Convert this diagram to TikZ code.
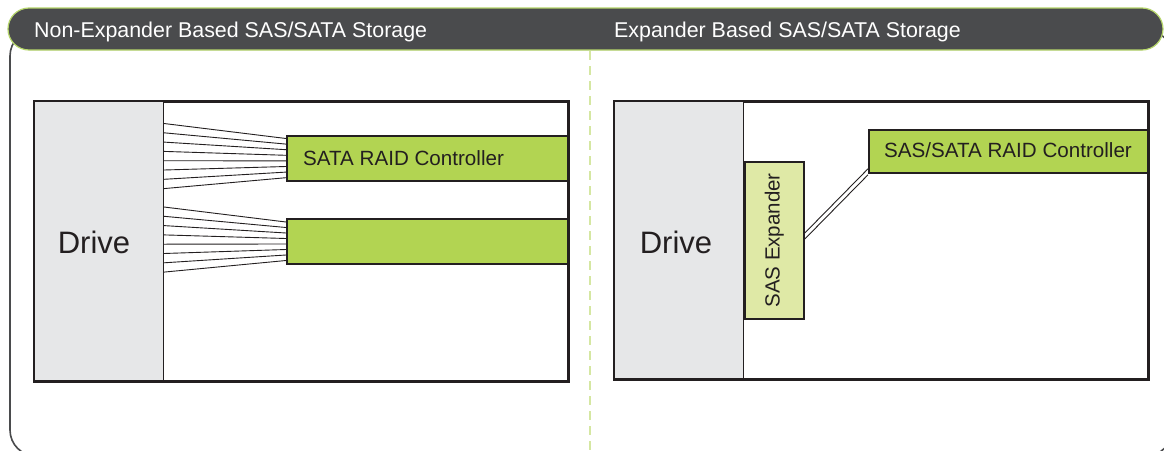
\documentclass[tikz,border=0pt]{standalone}
\usepackage{fontspec}
\setmainfont{Liberation Sans}
\usetikzlibrary{calc}
\definecolor{hdr}{HTML}{4A4B4D}
\definecolor{hgreen}{HTML}{B5D56A}
\definecolor{dashg}{HTML}{D5E7A2}
\definecolor{ink}{HTML}{231F20}
\definecolor{drivefill}{HTML}{E6E7E8}
\definecolor{ctrlfill}{HTML}{B2D452}
\definecolor{expfill}{HTML}{DFE9A6}
\definecolor{frame}{HTML}{4A4B4D}
\tikzset{
  panel/.style={draw=ink, line width=1.8pt, fill=white},
  drivebox/.style={draw=ink, line width=1pt, fill=drivefill, anchor=north west, inner sep=0pt},
  ctrlbox/.style={draw=ink, line width=1.8pt, fill=ctrlfill, anchor=north west, inner sep=0pt},
  expbox/.style={draw=ink, line width=1.8pt, fill=expfill, anchor=north west, inner sep=0pt},
  wire/.style={draw=ink, line width=0.9pt},
  hdrtext/.style={text=white, anchor=base west, font=\fontsize{21.4}{24}\selectfont, inner sep=0pt},
  boxtext/.style={text=ink, anchor=base west, inner sep=0pt, font=\fontsize{20.6}{24}\selectfont},
  drivetext/.style={text=ink, anchor=base, font=\fontsize{31}{36}\selectfont, inner sep=0pt}
}
\begin{document}
\begin{tikzpicture}[x=1pt,y=-1pt]
\clip (0,0) rectangle (1164,450);
\fill[white] (0,0) rectangle (1164,450);
% outer frame
\draw[frame, line width=1.6pt, rounded corners=26] (10,30) rectangle (1172,456);
% header
\draw[fill=hdr, draw=hgreen, line width=1.2pt, rounded corners=21] (8,8) rectangle (1163,50);
\node[hdrtext] (h1) at (34,37.7) {Non-Expander Based SAS/SATA Storage};
\node[hdrtext] (h2) at (614,37.7) {Expander Based SAS/SATA Storage};
% divider
\draw[dashg, line width=1.6pt, dash pattern=on 9pt off 6pt] (590,51) -- (590,450);

% ---------- left panel ----------
\node[panel, anchor=north west, minimum width=533pt, minimum height=279pt, inner sep=0pt] (lp) at (34,101) {};
\node[drivebox, minimum width=129pt, minimum height=279pt] (ld) at (34,101) {};
\draw[ink, line width=1.8pt] (lp.north west) rectangle (lp.south east);
\node[drivetext] (ldt) at (94,253.3) {Drive};
\node[ctrlbox, minimum width=281pt, minimum height=45pt] (c1) at (286,135) {};
\node[boxtext] (c1t) at (303,165) {SATA RAID Controller};
\node[ctrlbox, minimum width=281pt, minimum height=45pt] (c2) at (286,218) {};
\foreach \i in {0,...,7} {
  \draw[wire] ($(ld.north east)+(0,{22.5+9.3*\i})$) -- ($(c1.north west)+(0,{3.5+5.6*\i})$);
  \draw[wire] ($(ld.north east)+(0,{106+9.3*\i})$) -- ($(c2.north west)+(0,{4+5.5*\i})$);
}

% ---------- right panel ----------
\node[panel, anchor=north west, minimum width=533pt, minimum height=277pt, inner sep=0pt] (rp) at (614,101) {};
\node[drivebox, minimum width=129pt, minimum height=277pt] (rd) at (614,101) {};
\draw[ink, line width=1.8pt] (rp.north west) rectangle (rp.south east);
\node[drivetext] (rdt) at (676,253.3) {Drive};
\node[expbox, minimum width=59pt, minimum height=157pt] (ex) at (744,161) {};
\node[text=ink, rotate=90, inner sep=0pt, font=\fontsize{20.5}{24}\selectfont] (ext) at (ex.center) {SAS Expander};
\node[ctrlbox, minimum width=279pt, minimum height=43pt] (c3) at (868,129) {};
\node[boxtext] (c3t) at (884,157.5) {SAS/SATA RAID Controller};
\draw[wire] ($(ex.north east)+(0,72)$) -- ($(c3.south west)+(0,-5)$);
\draw[wire] ($(ex.north east)+(0,78)$) -- ($(c3.south west)+(0,1)$);
\end{tikzpicture}
\end{document}
